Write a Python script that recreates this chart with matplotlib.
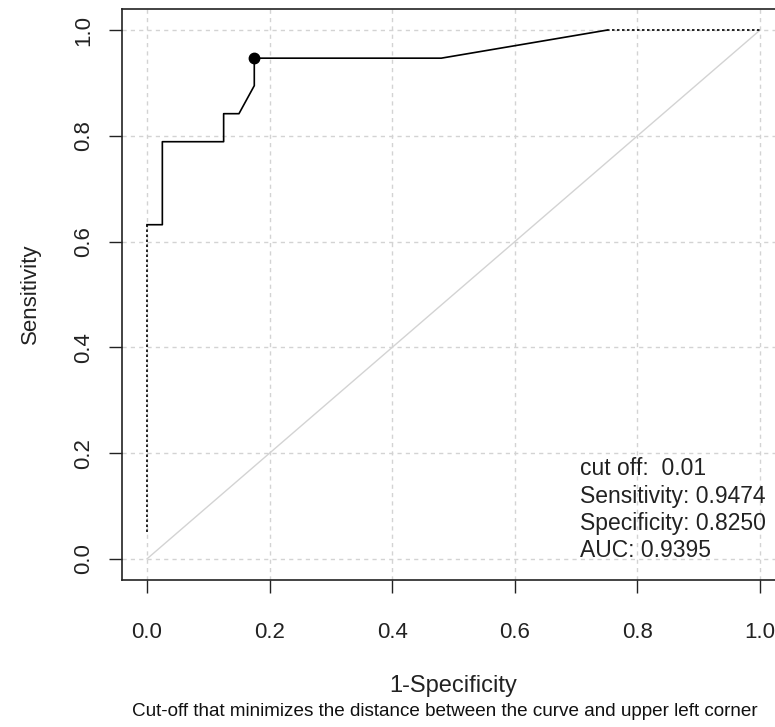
import matplotlib
matplotlib.use("Agg")
import matplotlib.pyplot as plt

plt.rcParams['font.family'] = ['Liberation Sans', 'DejaVu Sans']

# ROC curve points (1-Specificity, Sensitivity)
fpr = [0.0, 0.0, 0.025, 0.025, 0.125, 0.125, 0.15, 0.175, 0.175, 0.48, 0.75, 1.0]
tpr = [0.05, 0.632, 0.632, 0.789, 0.789, 0.842, 0.842, 0.895, 0.947, 0.947, 1.0, 1.0]
# segments drawn dotted: first and last
opt_point = (0.175, 0.9474)
ticks = [0.0, 0.2, 0.4, 0.6, 0.8, 1.0]
tick_labels = ["0.0", "0.2", "0.4", "0.6", "0.8", "1.0"]
info_lines = ["cut off:  0.01", "Sensitivity: 0.9474", "Specificity: 0.8250", "AUC: 0.9395"]

W, H = 775, 727
fig = plt.figure(figsize=(W / 100, H / 100), dpi=100)
ax = fig.add_axes([122.5 / W, (H - 580) / H, (784.5 - 122.5) / W, (580 - 9) / H])
ax.set_xlim(-0.04, 1.04)
ax.set_ylim(-0.04, 1.04)

# grid
for t in ticks:
    ax.axvline(t, color='#d3d3d3', lw=1.0, ls=(0, (3, 3)), zorder=0)
    ax.axhline(t, color='#d3d3d3', lw=1.0, ls=(0, (3, 3)), zorder=0)

# diagonal reference
ax.plot([0, 1], [0, 1], color='#d3d3d3', lw=1.0, zorder=1)

# ROC curve
ax.plot(fpr[0:2], tpr[0:2], color='black', lw=1.2, ls=(0, (1.5, 1.5)), zorder=2)
ax.plot(fpr[1:11], tpr[1:11], color='black', lw=1.2, zorder=3)
ax.plot(fpr[10:12], tpr[10:12], color='black', lw=1.2, ls=(0, (1.5, 1.5)), zorder=2)
ax.plot([opt_point[0]], [opt_point[1]], 'o', color='black', ms=7.5, zorder=4)

# info text
y0 = 0.170
for i, line in enumerate(info_lines):
    ax.text(0.706, y0 - i * 0.0512, line, fontsize=16.5, ha='left', va='center', color='#222222')

ax.set_xticks(ticks)
ax.set_xticklabels(tick_labels)
ax.set_yticks(ticks)
ax.set_yticklabels(tick_labels, rotation=90, va='center')
ax.tick_params(axis='both', direction='out', length=9.5, width=1.0, labelsize=16, color='#222222', labelcolor='#222222')
ax.tick_params(axis='x', pad=20.5)
ax.tick_params(axis='y', pad=11)
for s in ax.spines.values():
    s.set_linewidth(1.2)
    s.set_color('#222222')

fig.text(30 / W, 1 - 294 / H, "Sensitivity", rotation=90, ha='center', va='center', fontsize=16, color='#222222')
fig.text(453.5 / W, 1 - 686 / H, "1-Specificity", ha='center', va='center', fontsize=17, color='#222222')
fig.text(445 / W, 1 - 712 / H, "Cut-off that minimizes the distance between the curve and upper left corner",
         ha='center', va='center', fontsize=13.6, color='#111111')

fig.savefig("out.png", dpi=100)
